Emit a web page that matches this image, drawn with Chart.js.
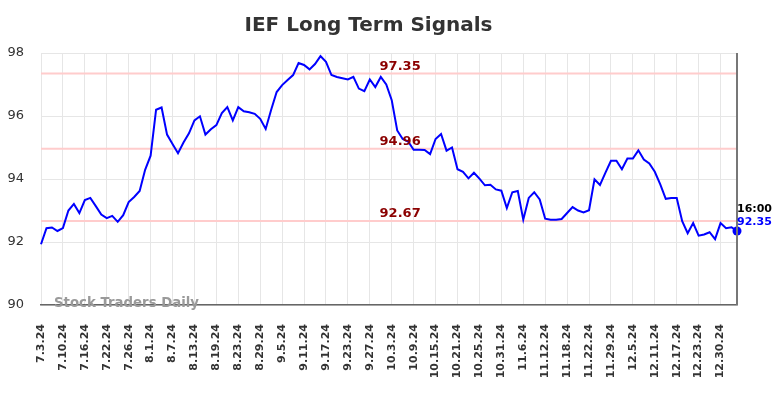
<!DOCTYPE html>
<html>
<head>
<meta charset="utf-8">
<script src="https://cdn.jsdelivr.net/npm/chart.js@4/dist/chart.umd.min.js"></script>
<style>
html,body{margin:0;padding:0;background:#fff;}
#wrap{width:784px;height:398px;position:relative;}
</style>
</head>
<body>
<div id="wrap"><canvas id="c" width="784" height="398"></canvas></div>
<script>
const chartTitle = 'IEF Long Term Signals';
const dates = [
'7.3.24','7.5.24','7.8.24','7.9.24','7.10.24','7.11.24','7.12.24','7.15.24','7.16.24','7.17.24','7.18.24','7.19.24','7.22.24','7.23.24','7.24.24','7.25.24','7.26.24','7.29.24','7.30.24','7.31.24',
'8.1.24','8.2.24','8.5.24','8.6.24','8.7.24','8.8.24','8.9.24','8.12.24','8.13.24','8.14.24','8.15.24','8.16.24','8.19.24','8.20.24','8.21.24','8.22.24','8.23.24','8.26.24','8.27.24','8.28.24','8.29.24','8.30.24',
'9.3.24','9.4.24','9.5.24','9.6.24','9.9.24','9.10.24','9.11.24','9.12.24','9.13.24','9.16.24','9.17.24','9.18.24','9.19.24','9.20.24','9.23.24','9.24.24','9.25.24','9.26.24','9.27.24','9.30.24',
'10.1.24','10.2.24','10.3.24','10.4.24','10.7.24','10.8.24','10.9.24','10.10.24','10.11.24','10.14.24','10.15.24','10.16.24','10.17.24','10.18.24','10.21.24','10.22.24','10.23.24','10.24.24','10.25.24','10.28.24','10.29.24','10.30.24','10.31.24',
'11.1.24','11.4.24','11.5.24','11.6.24','11.7.24','11.8.24','11.11.24','11.12.24','11.13.24','11.14.24','11.15.24','11.18.24','11.19.24','11.20.24','11.21.24','11.22.24','11.25.24','11.26.24','11.27.24','11.29.24',
'12.2.24','12.3.24','12.4.24','12.5.24','12.6.24','12.9.24','12.10.24','12.11.24','12.12.24','12.13.24','12.16.24','12.17.24','12.18.24','12.19.24','12.20.24','12.23.24','12.24.24','12.26.24','12.27.24','12.30.24','12.31.24',
'1.2.25','1.3.25'
];
const prices = [
91.93,92.44,92.46,92.35,92.44,93.00,93.21,92.92,93.33,93.40,93.14,92.87,92.76,92.83,92.64,92.85,93.27,93.43,93.62,94.29,
94.74,96.20,96.27,95.41,95.11,94.82,95.16,95.45,95.86,95.99,95.41,95.58,95.71,96.09,96.28,95.86,96.28,96.15,96.12,96.07,95.91,95.59,
96.20,96.76,96.98,97.14,97.30,97.68,97.62,97.48,97.65,97.90,97.72,97.30,97.24,97.20,97.16,97.24,96.87,96.79,97.16,96.92,
97.24,97.00,96.50,95.54,95.27,95.19,94.93,94.93,94.92,94.79,95.27,95.43,94.90,95.00,94.31,94.23,94.02,94.20,94.01,93.80,93.82,93.67,93.63,
93.08,93.58,93.62,92.71,93.40,93.58,93.35,92.74,92.71,92.71,92.73,92.92,93.11,93.00,92.94,93.01,93.99,93.81,94.20,94.58,
94.58,94.31,94.65,94.65,94.91,94.62,94.49,94.23,93.83,93.37,93.40,93.40,92.66,92.28,92.60,92.20,92.24,92.31,92.09,92.60,92.44,
92.47,92.35
];
const levels = [97.35, 94.96, 92.67];
const lastTimeLabel = '16:00';
const yTicks = [90, 92, 94, 96, 98];
const watermark = 'Stock Traders Daily';
const labelEvery = 4;

const lastIdx = prices.length - 1;

const overlay = {
  id: 'overlay',
  beforeDatasetsDraw(chart) {
    const {ctx, chartArea, scales} = chart;
    ctx.save();
    ctx.strokeStyle = '#ffcccc';
    ctx.lineWidth = 2;
    levels.forEach(v => {
      const y = scales.y.getPixelForValue(v);
      ctx.beginPath();
      ctx.moveTo(chartArea.left, y);
      ctx.lineTo(chartArea.right, y);
      ctx.stroke();
    });
    ctx.restore();
  },
  afterDatasetsDraw(chart) {
    const {ctx, chartArea, scales} = chart;
    ctx.save();
    ctx.font = 'bold 13px "DejaVu Sans"';
    ctx.fillStyle = '#8b0000';
    ctx.textAlign = 'center';
    ctx.textBaseline = 'alphabetic';
    const lx = chartArea.left + chartArea.width * 0.516;
    levels.forEach(v => {
      const y = scales.y.getPixelForValue(v);
      ctx.fillText(v.toFixed(2), lx, y - 3.5);
    });
    ctx.strokeStyle = '#777';
    ctx.lineWidth = 2;
    ctx.beginPath();
    ctx.moveTo(chartArea.right, chartArea.top);
    ctx.lineTo(chartArea.right, chartArea.bottom);
    ctx.stroke();
    ctx.font = 'bold 13.3px "DejaVu Sans"';
    ctx.fillStyle = '#9a9a9a';
    ctx.textAlign = 'left';
    ctx.textBaseline = 'middle';
    ctx.fillText(watermark, chartArea.left + 13, chartArea.bottom - 1);
    const px = scales.x.getPixelForValue(lastIdx);
    const py = scales.y.getPixelForValue(prices[lastIdx]);
    ctx.textAlign = 'left';
    ctx.textBaseline = 'alphabetic';
    ctx.font = 'bold 11px "DejaVu Sans"';
    ctx.fillStyle = '#000';
    ctx.fillText(lastTimeLabel, px, py - 19);
    ctx.fillStyle = '#0000ff';
    ctx.fillText(prices[lastIdx].toFixed(2), px, py - 6);
    ctx.restore();
  }
};

new Chart(document.getElementById('c'), {
  type: 'line',
  data: {
    labels: dates,
    datasets: [{
      data: prices,
      borderColor: '#0000ff',
      backgroundColor: '#0000ff',
      borderWidth: 2,
      tension: 0,
      fill: false,
      clip: false,
      pointRadius: ctx => ctx.dataIndex === lastIdx ? 4.5 : 0,
      pointHoverRadius: 0,
      pointBorderWidth: 0
    }]
  },
  options: {
    responsive: false,
    animation: false,
    events: [],
    layout: { padding: { left: 0, right: 47, top: 0, bottom: 0 } },
    plugins: {
      legend: { display: false },
      tooltip: { enabled: false },
      title: {
        display: true,
        text: chartTitle,
        color: '#333',
        font: { family: '"DejaVu Sans"', size: 20, weight: 'bold' },
        padding: { top: 14, bottom: 15 }
      }
    },
    scales: {
      x: {
        type: 'category',
        offset: false,
        grid: {
          drawTicks: false,
          color: ctx => (ctx.index % labelEvery === 0) ? '#e6e6e6' : 'rgba(0,0,0,0)',
          lineWidth: 1
        },
        border: { display: true, color: '#666', width: 1.5 },
        ticks: {
          autoSkip: false,
          maxRotation: 90,
          minRotation: 90,
          padding: 19,
          color: '#333',
          font: { family: '"DejaVu Sans"', size: 11, weight: 'bold' },
          callback: (v, i) => (i % labelEvery === 0) ? dates[i] : ''
        },
        afterFit: s => { s.height = 93; }
      },
      y: {
        min: 90,
        max: 98,
        afterBuildTicks: s => { s.ticks = yTicks.map(v => ({ value: v })); },
        grid: { drawTicks: false, color: '#e6e6e6', lineWidth: 1 },
        border: { display: false },
        ticks: {
          padding: 17,
          color: '#333',
          font: { family: '"DejaVu Sans"', size: 13 }
        },
        afterFit: s => { s.width = 41; }
      }
    }
  },
  plugins: [overlay]
});
</script>
</body>
</html>
